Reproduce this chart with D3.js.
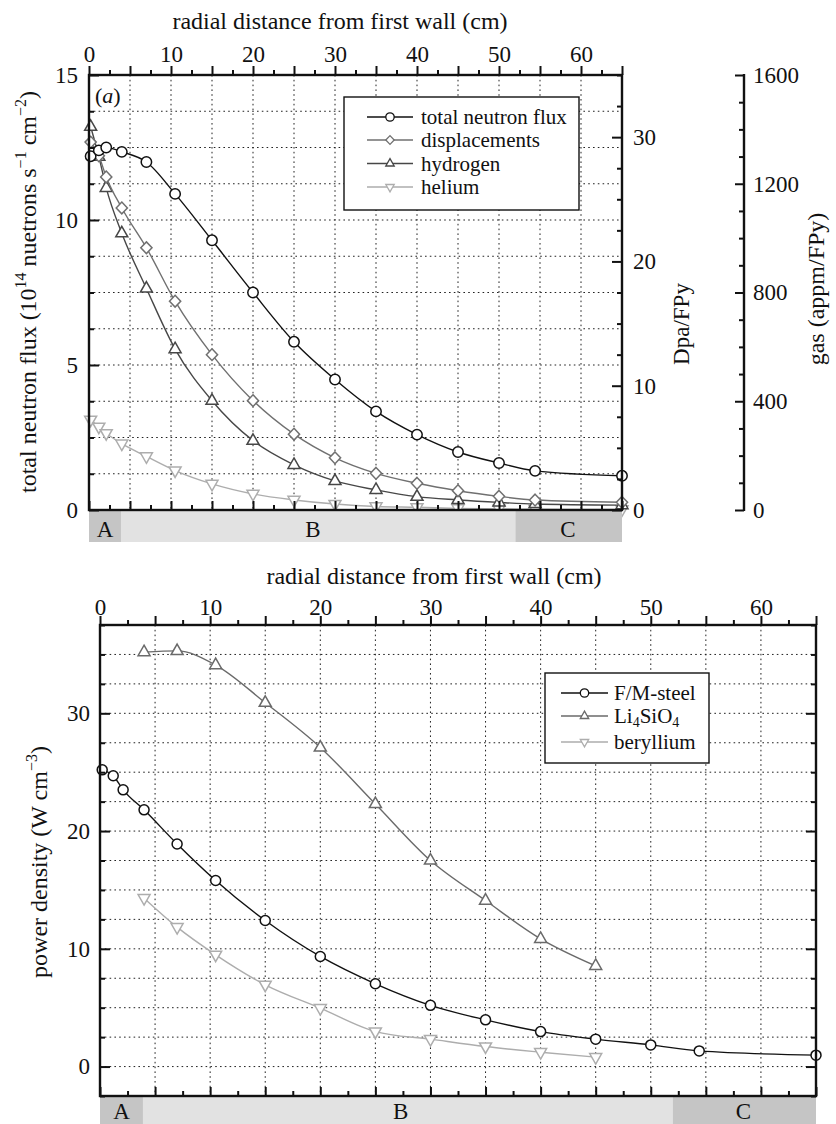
<!DOCTYPE html>
<html>
<head>
<meta charset="utf-8">
<script src="https://cdn.jsdelivr.net/npm/d3@7"></script>
<style>
  body { margin: 0; background: #fff; }
  svg text { font-family: "Liberation Serif", "DejaVu Serif", serif; fill: #111; }
</style>
</head>
<body>
<svg id="fig" width="836" height="1124"></svg>
<script>
// ---- data -------------------------------------------------------------
// radial positions (cm from the first wall) of the calculated points
const distance = [0.2, 1.2, 2.1, 4, 7, 10.5, 15, 20, 25, 30, 35, 40, 45, 50, 54.4, 65];
const breederDistance = [4, 7, 10.5, 15, 20, 25, 30, 35, 40, 45];

// panel (a): neutron flux (1e14 n s^-1 cm^-2), damage (dpa/FPy), gas production (appm/FPy)
const totalFlux     = [12.2, 12.4, 12.5, 12.35, 12.0, 10.9, 9.3, 7.5, 5.8, 4.5, 3.4, 2.6, 2.0, 1.62, 1.35, 1.18];
const displacements = [29.6, 28.5, 26.8, 24.3, 21.1, 16.8, 12.5, 8.8, 6.1, 4.2, 2.95, 2.15, 1.55, 1.1, 0.8, 0.62];
const hydrogen      = [1410, 1300, 1185, 1018, 815, 592, 402, 255, 166, 107, 74, 49, 37, 28, 22, 18];
const helium        = [332, 306, 282, 244, 197, 145, 96, 59, 37, 22, 13, 10, 6, 4, 3, 2];

// panel (b): nuclear power density (W cm^-3)
const steelPower     = [25.2, 24.7, 23.5, 21.8, 18.9, 15.8, 12.4, 9.35, 7.03, 5.2, 3.97, 2.97, 2.33, 1.84, 1.33, 0.97];
const li4sio4Power   = [35.2, 35.3, 34.1, 30.9, 27.1, 22.3, 17.5, 14.1, 10.85, 8.55];
const berylliumPower = [14.3, 11.84, 9.49, 6.94, 4.96, 2.97, 2.33, 1.7, 1.22, 0.8];

// blanket zones along the radius (cm)
const zoneNames = ["A", "B", "C"];
const zoneStart = [0, 3.9, 52];
const zoneEnd   = [3.9, 52, 65];
const zoneLabelAt = [1.95, 27.3, 58.4];

// axis tick labels
const distanceLabels = [0, 10, 20, 30, 40, 50, 60];
const fluxLabels = [0, 5, 10, 15];
const dpaLabels = [0, 10, 20, 30];
const gasLabels = [0, 400, 800, 1200, 1600];
const powerLabels = [0, 10, 20, 30];

// ---- helpers ------------------------------------------------------------
const svg = d3.select("#fig");
const FONT = '"Liberation Serif", "DejaVu Serif", serif';

function markerPath(type, s) {
  if (type === "diamond") return `M0,${-s * 1.05}L${s},0L0,${s * 1.05}L${-s},0Z`;
  if (type === "up") return `M0,${-s * 1.15}L${s},${s * 0.6}L${-s},${s * 0.6}Z`;
  if (type === "down") return `M0,${s * 1.15}L${s},${-s * 0.6}L${-s},${-s * 0.6}Z`;
  return d3.symbol(d3.symbolCircle, Math.PI * s * s)();
}

function drawAxis(orient, scale, tx, ty, values, lenOf, labels, pad, inward) {
  const gen = { top: d3.axisTop, bottom: d3.axisBottom, left: d3.axisLeft, right: d3.axisRight }[orient];
  const ax = gen(scale).tickValues(values).tickSizeOuter(0).tickSizeInner(0).tickPadding(pad)
    .tickFormat(d => labels.includes(d) ? String(d) : "");
  const g = svg.append("g").attr("transform", `translate(${tx},${ty})`).call(ax);
  g.attr("font-family", FONT).attr("font-size", 23);
  g.select(".domain").remove();
  const horiz = orient === "top" || orient === "bottom";
  g.selectAll(".tick line")
    .attr(horiz ? "y2" : "x2", d => inward * lenOf(d))
    .attr("stroke", "#111").attr("stroke-width", 2);
  g.selectAll(".tick text").attr("fill", "#111").style("font-family", FONT);
  return g;
}

function grid(xs, ys, xScale, yScale, x0, x1, y0, y1) {
  const g = svg.append("g").attr("stroke", "#222").attr("stroke-width", 1)
    .attr("stroke-dasharray", "1.6,3.2");
  g.selectAll(".v").data(xs).join("line")
    .attr("x1", d => xScale(d)).attr("x2", d => xScale(d)).attr("y1", y0).attr("y2", y1);
  g.selectAll(".h").data(ys).join("line")
    .attr("y1", d => yScale(d)).attr("y2", d => yScale(d)).attr("x1", x0).attr("x2", x1);
}

function series(xs, ys, xScale, yScale, color, type, size) {
  const pts = xs.map((x, i) => [xScale(x), yScale(ys[i])]);
  svg.append("path").datum(pts)
    .attr("d", d3.line().curve(d3.curveMonotoneX))
    .attr("fill", "none").attr("stroke", color).attr("stroke-width", 1.4);
  svg.append("g").selectAll("path").data(pts).join("path")
    .attr("transform", d => `translate(${d[0]},${d[1]})`)
    .attr("d", markerPath(type, size))
    .attr("fill", "#fff").attr("stroke", color).attr("stroke-width", 1.5);
}

function zoneBar(xScale, y0, h, labelY) {
  const fills = ["#c5c5c5", "#e2e2e2", "#c5c5c5"];
  const g = svg.append("g");
  g.selectAll("rect").data(zoneNames).join("rect")
    .attr("x", (d, i) => xScale(zoneStart[i]))
    .attr("width", (d, i) => xScale(zoneEnd[i]) - xScale(zoneStart[i]))
    .attr("y", y0).attr("height", h)
    .attr("fill", (d, i) => fills[i]);
  g.selectAll("text").data(zoneNames).join("text")
    .attr("x", (d, i) => xScale(zoneLabelAt[i]))
    .attr("y", labelY).attr("text-anchor", "middle").attr("font-size", 23)
    .text(d => d);
}

function legend(x, y, w, h, rows, rowY, lineX0, lineX1, textX) {
  const g = svg.append("g");
  g.append("rect").attr("x", x).attr("y", y).attr("width", w).attr("height", h)
    .attr("fill", "#fff").attr("stroke", "#111").attr("stroke-width", 1.4);
  rows.forEach((r, i) => {
    const cy = rowY[i];
    g.append("line").attr("x1", lineX0).attr("x2", lineX1).attr("y1", cy).attr("y2", cy)
      .attr("stroke", r.color).attr("stroke-width", 1.4);
    g.append("path").attr("transform", `translate(${(lineX0 + lineX1) / 2},${cy})`)
      .attr("d", markerPath(r.type, 4.2)).attr("fill", "#fff")
      .attr("stroke", r.color).attr("stroke-width", 1.3);
    const t = g.append("text").attr("x", textX).attr("y", cy + 7).attr("font-size", 21);
    r.parts.forEach(p => {
      const s = t.append("tspan").text(p.t);
      if (p.sub) s.attr("font-size", 14).attr("baseline-shift", "-4");
    });
  });
}

// ---- panel (a) ---------------------------------------------------------------
const xa = d3.scaleLinear([0, 65], [89, 622]);
const yFlux = d3.scaleLinear([0, 15], [510, 75]);
const yDpa = d3.scaleLinear([0, 35], [510, 75]);
const yGas = d3.scaleLinear([0, 1600], [510, 75]);

grid(d3.range(5, 61, 5), d3.range(1.25, 14.9, 1.25), xa, yFlux, 89, 622, 75, 510);
legend(344, 97, 235, 113, [
  { color: "#111", type: "circle", parts: [{ t: "total neutron flux" }] },
  { color: "#707070", type: "diamond", parts: [{ t: "displacements" }] },
  { color: "#474747", type: "up", parts: [{ t: "hydrogen" }] },
  { color: "#adadad", type: "down", parts: [{ t: "helium" }] }
], [117, 140, 163.5, 187], 367, 413, 421);

series(distance, helium, xa, yGas, "#adadad", "down", 6);
series(distance, hydrogen, xa, yGas, "#474747", "up", 6);
series(distance, displacements, xa, yDpa, "#707070", "diamond", 5.6);
series(distance, totalFlux, xa, yFlux, "#111", "circle", 5.2);

zoneBar(xa, 511, 31, 537);

// frame and axes
svg.append("rect").attr("x", 89).attr("y", 75).attr("width", 533).attr("height", 435)
  .attr("fill", "none").attr("stroke", "#111").attr("stroke-width", 2.4);
const cmMinor = d3.range(0, 65.1, 2.5);
drawAxis("top", xa, 0, 75, cmMinor, d => d % 5 === 0 ? 9 : 5, distanceLabels, 13, -1);
drawAxis("bottom", xa, 0, 510, cmMinor, d => d % 5 === 0 ? 9 : 5, [], 0, -1);
drawAxis("left", yFlux, 89, 0, d3.range(0, 15.1, 1.25), d => d % 5 === 0 ? 10 : 5, fluxLabels, 11, 1);
drawAxis("right", yDpa, 622, 0, d3.range(0, 35.1, 2.5), d => d % 10 === 0 ? 10 : 5, dpaLabels, 11, -1);

// separate gas-production axis
svg.append("line").attr("x1", 744).attr("x2", 744).attr("y1", 74).attr("y2", 511)
  .attr("stroke", "#111").attr("stroke-width", 2.4);
drawAxis("right", yGas, 744, 0, d3.range(0, 1601, 100), d => d % 400 === 0 ? 9 : 5, gasLabels, 9, -1);

// titles for panel (a)
svg.append("text").attr("x", 340).attr("y", 29).attr("text-anchor", "middle")
  .attr("font-size", 24).text("radial distance from first wall (cm)");
const fluxTitle = svg.append("text").attr("transform", "translate(36,292) rotate(-90)")
  .attr("text-anchor", "middle").attr("font-size", 24);
fluxTitle.append("tspan").text("total neutron flux (10");
fluxTitle.append("tspan").attr("font-size", 16).attr("dy", -10).text("14");
fluxTitle.append("tspan").attr("dy", 10).text(" nuetrons s");
fluxTitle.append("tspan").attr("font-size", 16).attr("dy", -10).text("\u22121");
fluxTitle.append("tspan").attr("dy", 10).text(" cm");
fluxTitle.append("tspan").attr("font-size", 16).attr("dy", -10).text("\u22122");
fluxTitle.append("tspan").attr("dy", 10).text(")");
svg.append("text").attr("transform", "translate(689,324) rotate(-90)")
  .attr("text-anchor", "middle").attr("font-size", 23).text("Dpa/FPy");
svg.append("text").attr("transform", "translate(824,289) rotate(-90)")
  .attr("text-anchor", "middle").attr("font-size", 24).text("gas (appm/FPy)");
const tag = svg.append("text").attr("x", 95).attr("y", 103).attr("font-size", 22);
tag.append("tspan").text("(");
tag.append("tspan").attr("font-style", "italic").text("a");
tag.append("tspan").text(")");

// ---- panel (b) ---------------------------------------------------------------
const xb = d3.scaleLinear([0, 65], [100, 816]);
const yPow = d3.scaleLinear([-2.5, 37.5], [1096, 625]);

grid(d3.range(5, 61, 5), d3.range(0, 35.1, 2.5), xb, yPow, 100, 816, 625, 1096);
legend(545, 673, 164, 90, [
  { color: "#111", type: "circle", parts: [{ t: "F/M-steel" }] },
  { color: "#6a6a6a", type: "up", parts: [{ t: "Li" }, { t: "4", sub: true }, { t: "SiO" }, { t: "4", sub: true }] },
  { color: "#adadad", type: "down", parts: [{ t: "beryllium" }] }
], [693, 716, 742], 561, 608, 614);

series(breederDistance, berylliumPower, xb, yPow, "#adadad", "down", 6);
series(breederDistance, li4sio4Power, xb, yPow, "#6a6a6a", "up", 6);
series(distance, steelPower, xb, yPow, "#111", "circle", 5);

zoneBar(xb, 1097, 27, 1119);

svg.append("rect").attr("x", 100).attr("y", 625).attr("width", 716).attr("height", 471)
  .attr("fill", "none").attr("stroke", "#111").attr("stroke-width", 2.4);
drawAxis("top", xb, 0, 625, cmMinor, d => d % 5 === 0 ? 9 : 5, distanceLabels, 10, -1);
drawAxis("bottom", xb, 0, 1096, cmMinor, d => d % 5 === 0 ? 9 : 5, [], 0, -1);
drawAxis("left", yPow, 100, 0, d3.range(-2.5, 37.6, 2.5), d => d % 10 === 0 ? 10 : 5, powerLabels, 10, 1);
drawAxis("right", yPow, 816, 0, d3.range(-2.5, 37.6, 2.5), d => d % 10 === 0 ? 10 : 5, [], 0, -1);

svg.append("text").attr("x", 434).attr("y", 584).attr("text-anchor", "middle")
  .attr("font-size", 24).text("radial distance from first wall (cm)");
const powTitle = svg.append("text").attr("transform", "translate(47,862) rotate(-90)")
  .attr("text-anchor", "middle").attr("font-size", 24);
powTitle.append("tspan").text("power density (W cm");
powTitle.append("tspan").attr("font-size", 16).attr("dy", -10).text("\u22123");
powTitle.append("tspan").attr("dy", 10).text(")");
</script>
</body>
</html>
